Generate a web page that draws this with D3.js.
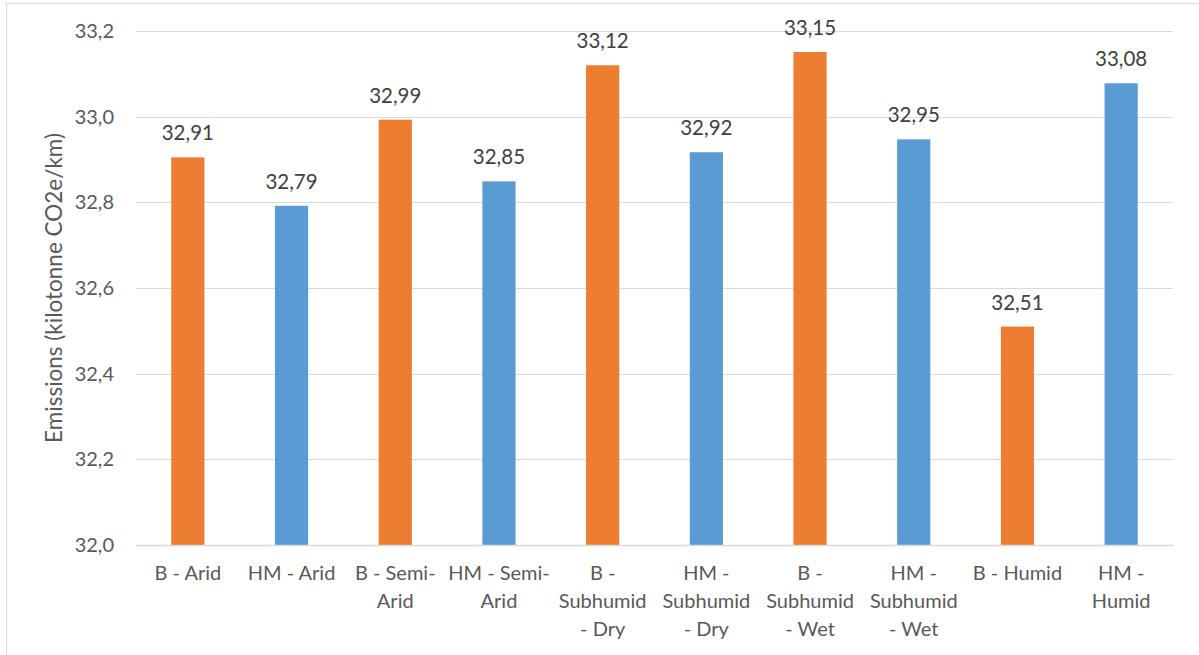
<!DOCTYPE html>
<html>
<head>
<meta charset="utf-8">
<script src="https://cdn.jsdelivr.net/npm/d3@7"></script>
<style>
  body { margin: 0; background: #fff; }
  text { font-family: Lato, "Open Sans", sans-serif; fill: #595959; }
</style>
</head>
<body>
<div class="chart"></div>
<script>
var width = 1199,
    height = 655;

// data
var categories = ["B - Arid", "HM - Arid", "B - Semi-Arid", "HM - Semi-Arid",
  "B - Subhumid - Dry", "HM - Subhumid - Dry", "B - Subhumid - Wet",
  "HM - Subhumid - Wet", "B - Humid", "HM - Humid"];
var values = [32.905, 32.792, 32.993, 32.849, 33.12, 32.917, 33.151, 32.947, 32.51, 33.078];
var valueLabels = ["32,91", "32,79", "32,99", "32,85", "33,12", "32,92", "33,15", "32,95", "32,51", "33,08"];
var groups = ["B", "HM", "B", "HM", "B", "HM", "B", "HM", "B", "HM"];
// how Excel wrapped the category labels
var tickLines = [["B - Arid"], ["HM - Arid"], ["B - Semi-", "Arid"], ["HM - Semi-", "Arid"],
  ["B -", "Subhumid", "- Dry"], ["HM -", "Subhumid", "- Dry"], ["B -", "Subhumid", "- Wet"],
  ["HM -", "Subhumid", "- Wet"], ["B - Humid"], ["HM -", "Humid"]];
var yTicks = [32.0, 32.2, 32.4, 32.6, 32.8, 33.0, 33.2];

var colors = { "B": "#ED7D31", "HM": "#5B9BD5" };

var plot = { left: 136, right: 1173, top: 31, bottom: 545 };

var svg = d3.select(".chart").append("svg")
    .attr("width", width)
    .attr("height", height);

// chart area border
svg.append("rect")
    .attr("x", 6.5).attr("y", 3.5)
    .attr("width", width + 10).attr("height", height + 10)
    .attr("fill", "none")
    .attr("stroke", "#d9d9d9");

var x = d3.scaleBand()
    .domain(categories)
    .range([plot.left, plot.right])
    .paddingInner(0.68)
    .paddingOuter(0.34);

var y = d3.scaleLinear()
    .domain([32.0, 33.2])
    .range([plot.bottom, plot.top]);

// gridlines
svg.append("g").selectAll("line")
  .data(yTicks.slice(1))
  .join("line")
    .attr("x1", plot.left).attr("x2", plot.right)
    .attr("y1", d => Math.round(y(d)) + 0.5)
    .attr("y2", d => Math.round(y(d)) + 0.5)
    .attr("stroke", "#d9d9d9")
    .attr("stroke-width", 1.2);

// y labels
svg.append("g").selectAll("text")
  .data(yTicks)
  .join("text")
    .attr("x", 114)
    .attr("y", d => y(d))
    .attr("dy", "0.35em")
    .attr("text-anchor", "end")
    .style("font-size", "20px")
    .text(d => d3.format(".1f")(d).replace(".", ","));

// bars
svg.append("g").selectAll("rect")
  .data(values)
  .join("rect")
    .attr("x", (d, i) => x(categories[i]))
    .attr("width", x.bandwidth())
    .attr("y", d => y(d))
    .attr("height", d => y(32.0) - y(d))
    .attr("fill", (d, i) => colors[groups[i]]);

// x axis line
svg.append("line")
    .attr("x1", plot.left).attr("x2", plot.right)
    .attr("y1", plot.bottom + 0.5).attr("y2", plot.bottom + 0.5)
    .attr("stroke", "#d9d9d9")
    .attr("stroke-width", 1.5);

// data labels
svg.append("g").selectAll("text")
  .data(values)
  .join("text")
    .attr("x", (d, i) => x(categories[i]) + x.bandwidth() / 2)
    .attr("y", d => y(d) - 17)
    .attr("text-anchor", "middle")
    .style("font-size", "20.5px")
    .style("fill", "#404040")
    .text((d, i) => valueLabels[i]);

// category labels
var xl = svg.append("g").selectAll("text")
  .data(categories)
  .join("text")
    .attr("text-anchor", "middle")
    .style("font-size", "20px")
    .attr("transform", d => "translate(" + (x(d) + x.bandwidth() / 2) + ",580)");

xl.each(function(d, i) {
  d3.select(this).selectAll("tspan")
    .data(tickLines[i])
    .join("tspan")
      .attr("x", 0)
      .attr("y", (t, j) => j * 28)
      .text(t => t);
});

// y title
svg.append("text")
    .attr("transform", "translate(62," + ((plot.top + plot.bottom) / 2) + ") rotate(-90)")
    .attr("text-anchor", "middle")
    .style("font-size", "22.5px")
    .text("Emissions (kilotonne CO2e/km)");
</script>
</body>
</html>
